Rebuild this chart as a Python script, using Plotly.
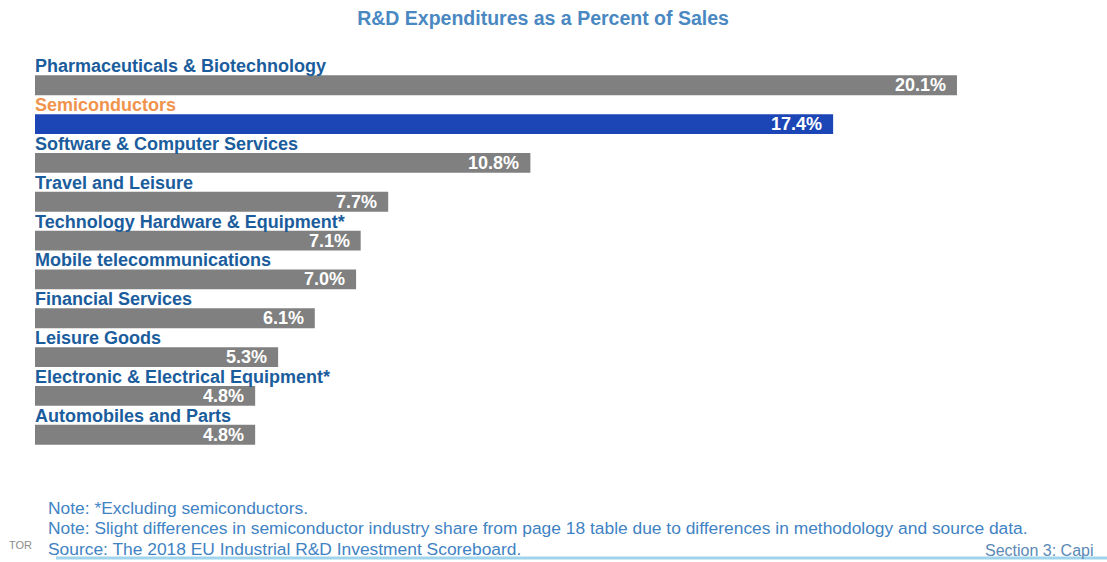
import plotly.graph_objects as go

# Industry R&D intensity, 2018 EU Industrial R&D Investment Scoreboard
industries = [
    "Pharmaceuticals & Biotechnology",
    "Semiconductors",
    "Software & Computer Services",
    "Travel and Leisure",
    "Technology Hardware & Equipment*",
    "Mobile telecommunications",
    "Financial Services",
    "Leisure Goods",
    "Electronic & Electrical Equipment*",
    "Automobiles and Parts",
]
rd_pct = [20.1, 17.4, 10.8, 7.7, 7.1, 7.0, 6.1, 5.3, 4.8, 4.8]
highlight = "Semiconductors"

GRAY = "#808080"
BLUE = "#1c46b6"
LABEL_BLUE = "#1b5d9c"
ORANGE = "#f0934d"
FONT = "Liberation Sans, Arial, sans-serif"

positions = list(range(len(industries)))
bar_colors = [BLUE if name == highlight else GRAY for name in industries]

fig = go.Figure(
    go.Bar(
        x=rd_pct,
        y=positions,
        orientation="h",
        width=0.51,
        marker=dict(color=bar_colors, line=dict(width=0)),
        hoverinfo="skip",
    )
)

annotations = []
for pos, name, val in zip(positions, industries, rd_pct):
    # industry name sits just above its bar
    annotations.append(dict(
        x=0, y=pos, xref="x", yref="y", xanchor="left", yanchor="middle",
        yshift=19, xshift=-2, showarrow=False, text=f"<b>{name}</b>",
        font=dict(family=FONT, size=18,
                  color=ORANGE if name == highlight else LABEL_BLUE),
    ))
    # value label inside the bar end
    annotations.append(dict(
        x=val, y=pos, xref="x", yref="y", xanchor="right", yanchor="middle",
        xshift=-9, yshift=0, showarrow=False, text=f"<b>{val:.1f}%</b>",
        font=dict(family=FONT, size=18, color="white"),
    ))

notes = [
    "Note: *Excluding semiconductors.",
    "Note: Slight differences in semiconductor industry share from page 18 table due to differences in methodology and source data.",
    "Source: The 2018 EU Industrial R&D Investment Scoreboard.",
]
note_y = [508, 528, 549]
for txt, py in zip(notes, note_y):
    annotations.append(dict(
        x=46, y=1 - py / 562, xref="paper", yref="paper",
        xanchor="left", yanchor="middle", showarrow=False, text=txt,
        font=dict(family=FONT, size=17.4, color="#3f83c4"),
    ))

annotations.append(dict(
    x=7, y=1 - 545 / 562, xref="paper", yref="paper", xanchor="left",
    yanchor="middle", showarrow=False, text="TOR",
    font=dict(family=FONT, size=11, color="#8c8c8c"),
))
annotations.append(dict(
    x=983, y=1 - 550 / 562, xref="paper", yref="paper", xanchor="left",
    yanchor="middle", showarrow=False, text="Section 3: Capi",
    font=dict(family=FONT, size=16, color="#5b89b6"),
))

# convert pixel positions to paper coordinates relative to the plot area
W, H = 1107, 562
ML, MR, MT, MB = 35, 17, 27, 69
pw, ph = W - ML - MR, H - MT - MB


def px_x(px):
    return (px - ML) / pw


def px_y(py):
    return 1 - (py - MT) / ph


for a in annotations:
    if a["xref"] == "paper":
        a["x"] = px_x(a["x"])
        a["y"] = px_y((1 - a["y"]) * H)

shapes = [
    dict(type="line", xref="paper", yref="paper",
         x0=px_x(56), x1=px_x(W), y0=px_y(558), y1=px_y(558),
         line=dict(color="#9fd4ec", width=3)),
]

fig.update_layout(
    width=W, height=H,
    margin=dict(l=ML, r=MR, t=MT, b=MB),
    paper_bgcolor="white", plot_bgcolor="rgba(0,0,0,0)",
    showlegend=False,
    title=dict(
        text="<b>R&D Expenditures as a Percent of Sales</b>",
        x=543 / W, xanchor="center", y=1 - 18 / H, yanchor="middle",
        font=dict(family=FONT, size=19.5, color="#4a88c2"),
    ),
    xaxis=dict(range=[0, 23], visible=False, fixedrange=True),
    yaxis=dict(range=[10.5, -1.5], visible=False, fixedrange=True),
    annotations=annotations,
    shapes=shapes,
)

fig.write_html("out.html")
